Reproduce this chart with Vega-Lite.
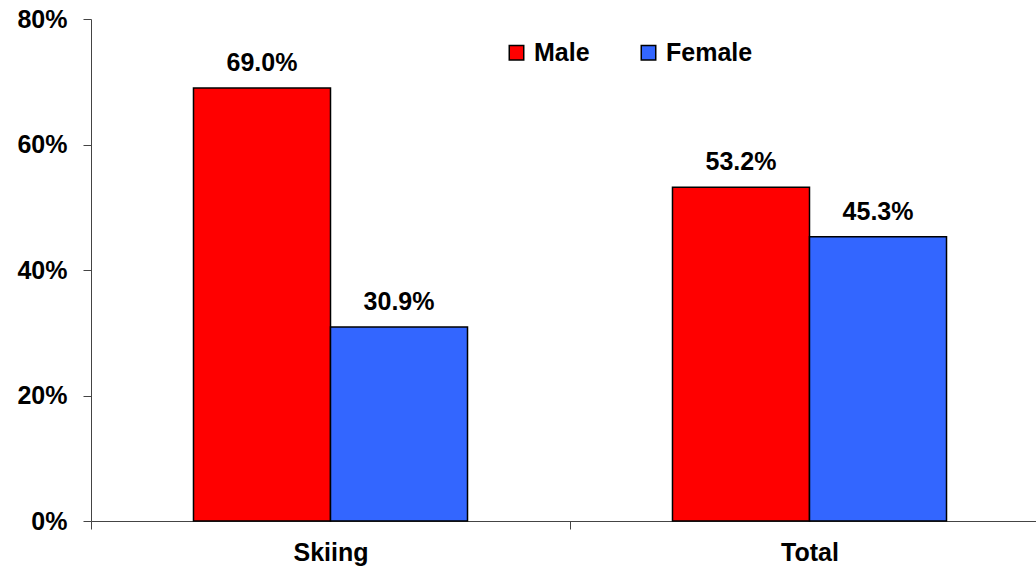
{
  "$schema": "https://vega.github.io/schema/vega-lite/v6.json",
  "autosize": "none",
  "width": 958,
  "height": 502,
  "padding": {"left": 91, "top": 19, "right": 0, "bottom": 46},
  "background": "white",
  "config": {
    "view": {"stroke": null},
    "font": "Liberation Sans"
  },
  "data": {
    "values": [
      {"category": "Skiing", "sex": "Male", "share": 0.690},
      {"category": "Skiing", "sex": "Female", "share": 0.309},
      {"category": "Total", "sex": "Male", "share": 0.532},
      {"category": "Total", "sex": "Female", "share": 0.453}
    ]
  },
  "encoding": {
    "x": {
      "field": "category",
      "type": "nominal",
      "sort": ["Skiing", "Total"],
      "scale": {"paddingInner": 0, "paddingOuter": 0},
      "axis": {
        "title": null,
        "labelAngle": 0,
        "tickBand": "extent",
        "tickSize": 8,
        "domainColor": "#444444",
        "tickColor": "#444444",
        "labelFont": "Liberation Sans",
        "labelFontSize": 25,
        "labelFontWeight": "bold",
        "labelColor": "black",
        "labelPadding": 11
      }
    },
    "xOffset": {
      "field": "sex",
      "type": "nominal",
      "sort": ["Male", "Female"],
      "scale": {"paddingInner": 0, "paddingOuter": 0.748}
    },
    "y": {
      "field": "share",
      "type": "quantitative",
      "scale": {"domain": [0, 0.8]},
      "axis": {
        "title": null,
        "values": [0, 0.2, 0.4, 0.6, 0.8],
        "format": ".0%",
        "grid": false,
        "tickSize": 8,
        "domainColor": "#444444",
        "tickColor": "#444444",
        "labelFont": "Liberation Sans",
        "labelFontSize": 25,
        "labelFontWeight": "bold",
        "labelColor": "black",
        "labelPadding": 16
      }
    }
  },
  "layer": [
    {
      "mark": {"type": "bar", "stroke": "black", "strokeWidth": 1.5},
      "encoding": {
        "color": {
          "field": "sex",
          "type": "nominal",
          "sort": ["Male", "Female"],
          "scale": {"domain": ["Male", "Female"], "range": ["#FF0000", "#3366FF"]},
          "legend": {
            "title": null,
            "orient": "none",
            "legendX": 413,
            "legendY": 21,
            "direction": "horizontal",
            "symbolType": "square",
            "symbolSize": 210,
            "symbolStrokeColor": "black",
            "symbolStrokeWidth": 1.5,
            "symbolOpacity": 1,
            "labelFont": "Liberation Sans",
            "labelFontSize": 25,
            "labelFontWeight": "bold",
            "labelColor": "black",
            "labelOffset": 5,
            "columnPadding": 46
          }
        }
      }
    },
    {
      "mark": {
        "type": "text",
        "baseline": "bottom",
        "dy": -12,
        "font": "Liberation Sans",
        "fontSize": 25,
        "fontWeight": "bold",
        "color": "black"
      },
      "encoding": {
        "text": {"field": "share", "type": "quantitative", "format": ".1%"}
      }
    }
  ]
}
